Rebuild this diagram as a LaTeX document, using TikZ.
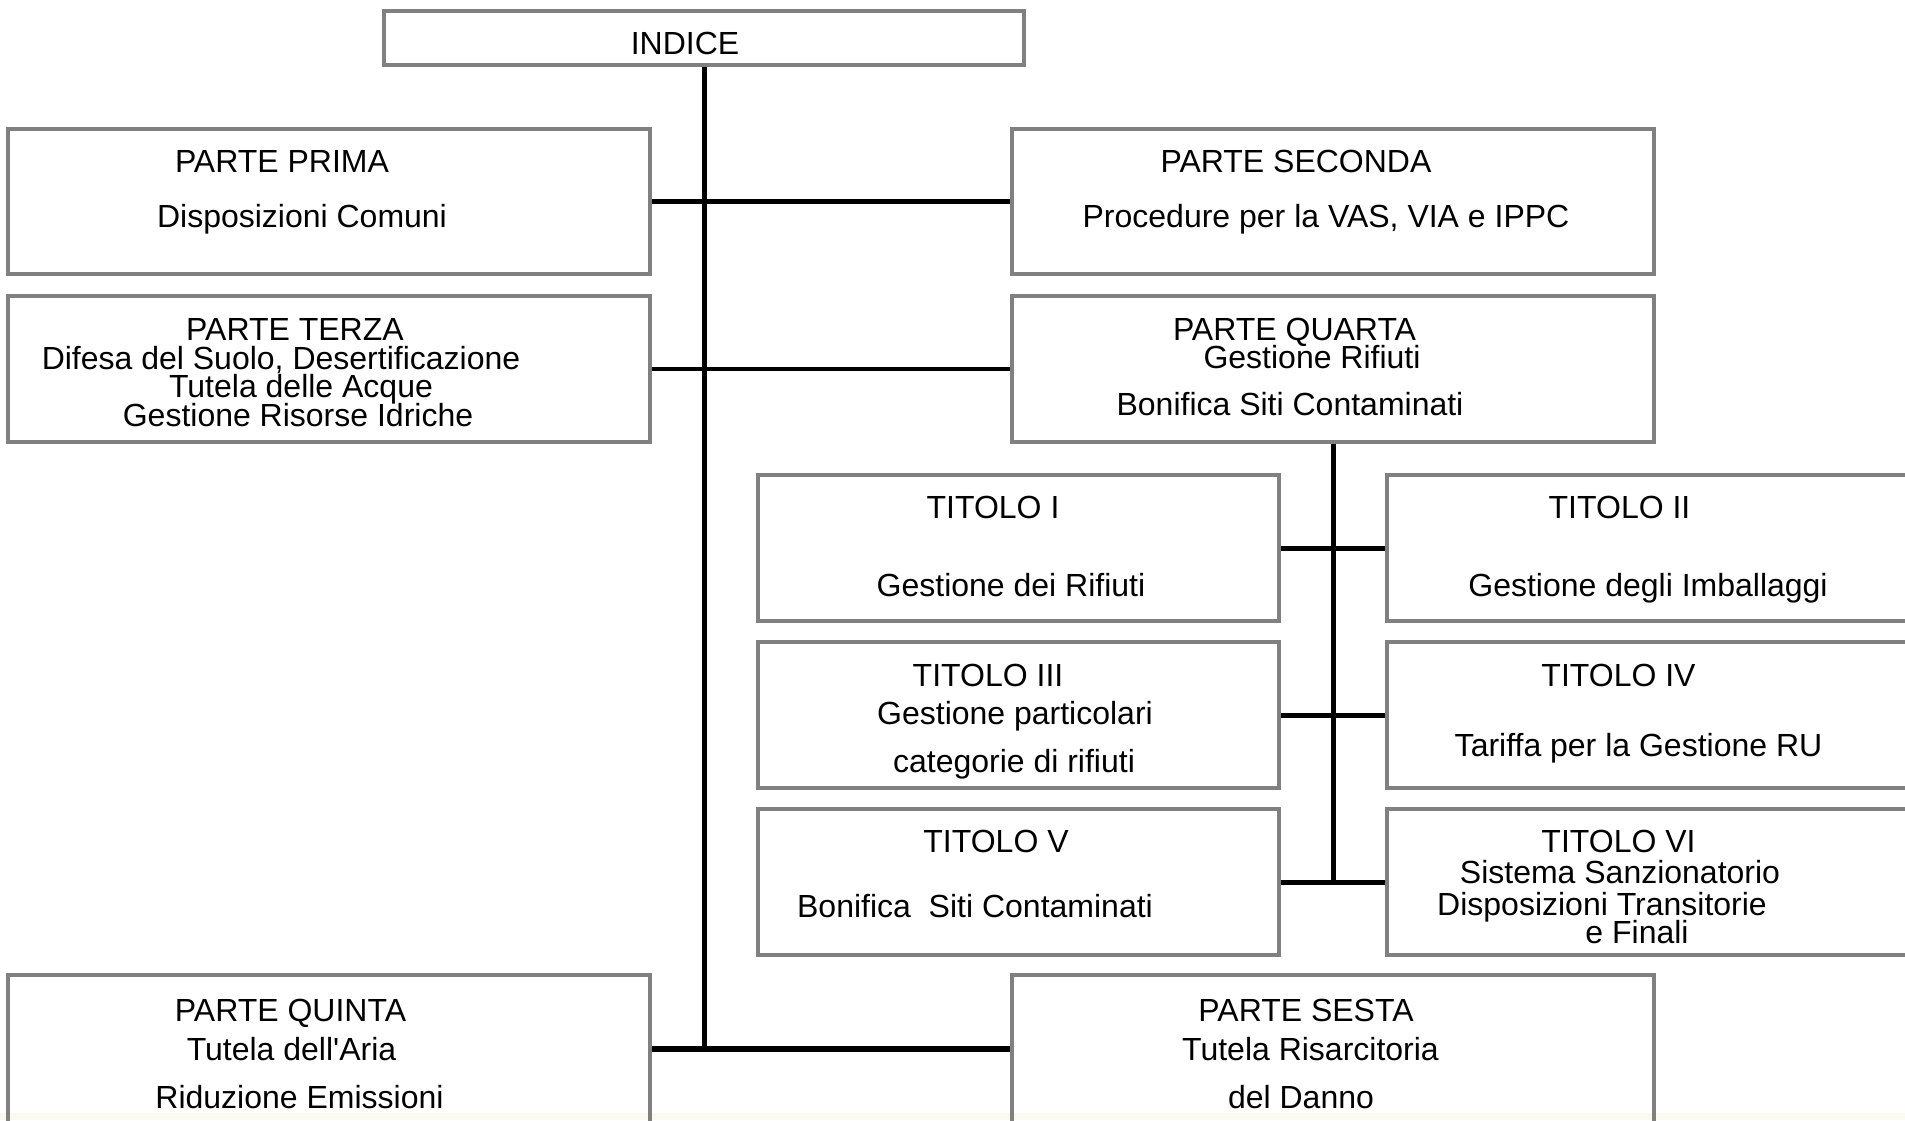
\documentclass[tikz,border=0pt]{standalone}
\usepackage{fontspec}
\newfontfamily\arialf{Liberation Sans}
\definecolor{boxgray}{RGB}{128,128,128}
\definecolor{creamstrip}{RGB}{251,250,240}
\tikzset{
  pbox/.style={draw=boxgray, line width=2pt, inner sep=0pt, rectangle},
  conn/.style={draw=black, line width=2.5pt},
  txt/.style={inner sep=0pt, anchor=base, font=\arialf\fontsize{16}{19}\selectfont}
}
\begin{document}
\begin{tikzpicture}[x=0.5pt, y=-0.5pt]
\useasboundingbox (0,0) rectangle (1905,1120);
\clip (0,0) rectangle (1905,1120);
\fill[white] (0,0) rectangle (1905,1120);
\fill[creamstrip] (0,1113) rectangle (1905,1120);

% boxes
\node[pbox, minimum width=320pt, minimum height=27pt]   (indice)  at (704,38) {};
\node[pbox, minimum width=321pt, minimum height=72.5pt] (prima)   at (329,201.5) {};
\node[pbox, minimum width=321pt, minimum height=72.5pt] (seconda) at (1333,201.5) {};
\node[pbox, minimum width=321pt, minimum height=73pt]   (terza)   at (329,369) {};
\node[pbox, minimum width=321pt, minimum height=73pt]   (quarta)  at (1333,369) {};
\node[pbox, minimum width=260.5pt, minimum height=73pt] (tit1) at (1018.5,548) {};
\node[pbox, minimum width=260.5pt, minimum height=73pt] (tit2) at (1647,548) {};
\node[pbox, minimum width=260.5pt, minimum height=73pt] (tit3) at (1018.5,715) {};
\node[pbox, minimum width=260.5pt, minimum height=73pt] (tit4) at (1647,715) {};
\node[pbox, minimum width=260.5pt, minimum height=73pt] (tit5) at (1018.5,882) {};
\node[pbox, minimum width=260.5pt, minimum height=73pt] (tit6) at (1647,882) {};
\node[pbox, minimum width=321pt, minimum height=74pt]   (quinta)  at (329,1049) {};
\node[pbox, minimum width=321pt, minimum height=74pt]   (sesta)   at (1333,1049) {};

% connectors
\coordinate (jbot) at (indice.south |- quinta.east);
\coordinate (jsub) at (quarta.south |- tit5.east);
\draw[conn] (indice.south) -- (jbot);
\draw[conn, line width=2.25pt] (prima.east) -- (seconda.west);
\draw[conn, line width=2.25pt] (terza.east) -- (quarta.west);
\draw[conn, line width=3.25pt] (quinta.east) -- (sesta.west);
\draw[conn] (quarta.south) -- (jsub);
\draw[conn] (tit1.east) -- (tit2.west);
\draw[conn] (tit3.east) -- (tit4.west);
\draw[conn] (tit5.east) -- (tit6.west);

% texts
\node[txt] (tindice) at (685,54) {INDICE};
\node[txt] (tprima1) at (282,172.5) {PARTE PRIMA};
\node[txt] (tprima2) at (302,227) {Disposizioni Comuni};
\node[txt] (tsec1) at (1296,172.5) {PARTE SECONDA};
\node[txt] (tsec2) at (1326,227) {Procedure per la VAS, VIA e IPPC};
\node[txt] (tter1) at (295,340) {PARTE TERZA};
\node[txt] (tter2) at (281,369) {Difesa del Suolo, Desertificazione};
\node[txt] (tter3) at (301,397) {Tutela delle Acque};
\node[txt] (tter4) at (298,426) {Gestione Risorse Idriche};
\node[txt] (tqua1) at (1294.5,340) {PARTE QUARTA};
\node[txt] (tqua2) at (1312,368) {Gestione Rifiuti};
\node[txt] (tqua3) at (1290,415) {Bonifica Siti Contaminati};
\node[txt] (tt1a) at (993,518) {TITOLO I};
\node[txt] (tt1b) at (1011,596) {Gestione dei Rifiuti};
\node[txt] (tt2a) at (1619.5,518) {TITOLO II};
\node[txt] (tt2b) at (1648,596) {Gestione degli Imballaggi};
\node[txt] (tt3a) at (988,686) {TITOLO III};
\node[txt] (tt3b) at (1015,724) {Gestione particolari};
\node[txt] (tt3c) at (1014,772) {categorie di rifiuti};
\node[txt] (tt4a) at (1618.5,686) {TITOLO IV};
\node[txt] (tt4b) at (1638.5,756) {Tariffa per la Gestione RU};
\node[txt] (tt5a) at (996,852) {TITOLO V};
\node[txt] (tt5b) at (975,917) {Bonifica~~Siti Contaminati};
\node[txt] (tt6a) at (1618.5,852) {TITOLO VI};
\node[txt] (tt6b) at (1620,883) {Sistema Sanzionatorio};
\node[txt] (tt6c) at (1602,915) {Disposizioni Transitorie};
\node[txt] (tt6d) at (1637,943) {e Finali};
\node[txt] (tqui1) at (290.5,1021) {PARTE QUINTA};
\node[txt] (tqui2) at (291.5,1060) {Tutela dell'Aria};
\node[txt] (tqui3) at (299.5,1108) {Riduzione Emissioni};
\node[txt] (tses1) at (1306,1021) {PARTE SESTA};
\node[txt] (tses2) at (1310.5,1060) {Tutela Risarcitoria};
\node[txt] (tses3) at (1301,1108) {del Danno};
\end{tikzpicture}
\end{document}
